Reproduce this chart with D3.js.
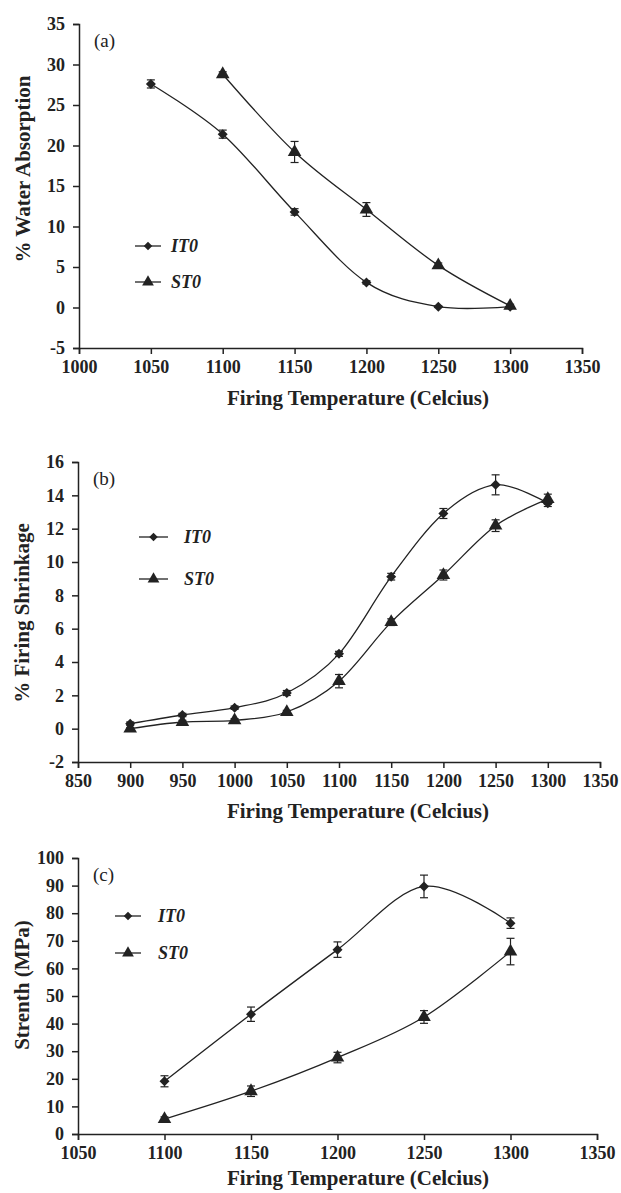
<!DOCTYPE html>
<html>
<head>
<meta charset="utf-8">
<script src="https://cdn.jsdelivr.net/npm/d3@7"></script>
<style>
  body { margin: 0; background: #fff; }
  svg { display: block; }
  .title { font-family: "Liberation Serif", serif; font-weight: bold; font-size: 21px; fill: #222; }
  .tag { font-family: "Liberation Serif", serif; font-size: 19px; fill: #222; }
  .leg { font-family: "Liberation Serif", serif; font-weight: bold; font-style: italic; font-size: 18px; fill: #222; }
</style>
</head>
<body>
<svg width="621" height="1193"></svg>
<script>
// (a) water absorption
var tempAbsIT0 = [1050, 1100, 1150, 1200, 1250, 1300];
var absIT0     = [27.6, 21.4, 11.8, 3.1, 0.1, 0.1];
var absIT0Err  = [0.5, 0.5, 0.4, 0.2, 0.1, 0.1];
var tempAbsST0 = [1100, 1150, 1200, 1250, 1300];
var absST0     = [28.8, 19.2, 12.1, 5.2, 0.2];
var absST0Err  = [0.3, 1.3, 0.85, 0.3, 0.2];

// (b) firing shrinkage
var tempShr   = [900, 950, 1000, 1050, 1100, 1150, 1200, 1250, 1300];
var shrIT0    = [0.3, 0.82, 1.26, 2.14, 4.49, 9.12, 12.91, 14.63, 13.53];
var shrIT0Err = [0.1, 0.1, 0.1, 0.15, 0.15, 0.2, 0.3, 0.6, 0.2];
var shrST0    = [0.0, 0.4, 0.5, 1.0, 2.85, 6.39, 9.22, 12.18, 13.77];
var shrST0Err = [0.05, 0.1, 0.1, 0.1, 0.4, 0.2, 0.3, 0.35, 0.3];

// (c) strength
var tempStr   = [1100, 1150, 1200, 1250, 1300];
var strIT0    = [19.1, 43.4, 66.8, 89.7, 76.4];
var strIT0Err = [2.0, 2.6, 2.8, 4.1, 1.9];
var strST0    = [5.4, 15.5, 27.7, 42.4, 66.1];
var strST0Err = [0.8, 1.9, 1.9, 2.3, 4.8];

var seriesNames = ["IT0", "ST0"];

var svg = d3.select("svg");
var ink = "#222";

function zip(xs, ys, es) {
  return xs.map(function(x, i){ return {x: x, y: ys[i], e: es[i]}; });
}

function styleAxis(a) {
  a.attr("font-family", "Liberation Serif").attr("font-size", 18).attr("font-weight", "bold");
  a.select(".domain").attr("stroke", ink).attr("stroke-width", 1.5);
  a.selectAll(".tick line").attr("stroke", ink).attr("stroke-width", 1.5);
  a.selectAll(".tick text").attr("fill", ink)
    .style("font-family", "'Liberation Serif', serif").style("font-weight", "bold").style("font-size", "18px");
}

// diamond = square turned 45deg, triangle as is
var symbols = [d3.symbolSquare, d3.symbolTriangle];
var rot = [45, 0];

function drawPanel(p) {
  var x = d3.scaleLinear().domain(p.xDomain).range([p.left, p.right]);
  var y = d3.scaleLinear().domain(p.yDomain).range([p.bottom, p.top]);

  var xAxis = svg.append("g")
      .attr("transform", "translate(0," + p.bottom + ")")
      .call(d3.axisBottom(x).tickValues(d3.range(p.xDomain[0], p.xDomain[1] + 1, 50))
        .tickFormat(d3.format("d")).tickSizeOuter(0).tickSize(6).tickPadding(6));
  var yAxis = svg.append("g")
      .attr("transform", "translate(" + p.left + ",0)")
      .call(d3.axisLeft(y).tickValues(d3.range(p.yDomain[0], p.yDomain[1] + 0.001, p.yStep))
        .tickFormat(function(d){ return d < 0 ? "-" + Math.abs(d) : d; })
        .tickSizeOuter(0).tickSize(6).tickPadding(8));
  styleAxis(xAxis);
  styleAxis(yAxis);

  var line = d3.line()
      .x(function(d){ return x(d.x); })
      .y(function(d){ return y(d.y); })
      .curve(d3.curveCardinal.tension(0));

  p.series.forEach(function(s, k) {
    var g = svg.append("g");
    g.append("path").datum(s)
      .attr("d", line).attr("fill", "none").attr("stroke", ink).attr("stroke-width", 1.3);
    var eb = g.selectAll(".eb").data(s).enter().append("g");
    eb.append("line")
      .attr("x1", function(d){ return x(d.x); }).attr("x2", function(d){ return x(d.x); })
      .attr("y1", function(d){ return y(d.y - d.e); }).attr("y2", function(d){ return y(d.y + d.e); })
      .attr("stroke", ink).attr("stroke-width", 1.2);
    [-1, 1].forEach(function(sg){
      eb.append("line")
        .attr("x1", function(d){ return x(d.x) - 4; }).attr("x2", function(d){ return x(d.x) + 4; })
        .attr("y1", function(d){ return y(d.y + sg * d.e); }).attr("y2", function(d){ return y(d.y + sg * d.e); })
        .attr("stroke", ink).attr("stroke-width", 1.2);
    });
    g.selectAll(".m").data(s).enter().append("path")
      .attr("d", d3.symbol().type(symbols[k]).size(k === 0 ? 50 : 80))
      .attr("transform", function(d){ return "translate(" + x(d.x) + "," + y(d.y) + ") rotate(" + rot[k] + ")"; })
      .attr("fill", ink);
  });

  // legend
  seriesNames.forEach(function(name, k) {
    var ly = p.legY[k];
    svg.append("line").attr("x1", p.legX0).attr("x2", p.legX1).attr("y1", ly).attr("y2", ly)
      .attr("stroke", ink).attr("stroke-width", 1.3);
    svg.append("path").attr("d", d3.symbol().type(symbols[k]).size(k === 0 ? 36 : 60))
      .attr("transform", "translate(" + ((p.legX0 + p.legX1) / 2) + "," + ly + ") rotate(" + rot[k] + ")")
      .attr("fill", ink);
    svg.append("text").attr("class", "leg").attr("x", p.legText).attr("y", ly + 6).text(name);
  });

  svg.append("text").attr("class", "tag").attr("x", p.left + 15).attr("y", p.top + 23).text(p.tag);

  svg.append("text").attr("class", "title").attr("text-anchor", "middle")
    .attr("transform", "translate(" + (p.yTitleX) + "," + p.yTitleY + ") rotate(-90)")
    .attr("dy", "0.35em").text(p.yTitle);
  svg.append("text").attr("class", "title").attr("text-anchor", "middle")
    .attr("x", 358).attr("y", p.xTitleY).attr("dy", "0.35em").text("Firing Temperature (Celcius)");
}

drawPanel({
  xDomain: [1000, 1350], yDomain: [-5, 35], yStep: 5,
  left: 79, right: 582, top: 24, bottom: 348,
  series: [zip(tempAbsIT0, absIT0, absIT0Err), zip(tempAbsST0, absST0, absST0Err)],
  legX0: 135, legX1: 161, legText: 171, legY: [246, 282],
  tag: "(a)", yTitle: "% Water Absorption", yTitleX: 23, yTitleY: 169, xTitleY: 398
});

drawPanel({
  xDomain: [850, 1350], yDomain: [-2, 16], yStep: 2,
  left: 78, right: 600, top: 462, bottom: 762,
  series: [zip(tempShr, shrIT0, shrIT0Err), zip(tempShr, shrST0, shrST0Err)],
  legX0: 139, legX1: 168, legText: 184, legY: [537, 579],
  tag: "(b)", yTitle: "% Firing Shrinkage", yTitleX: 22, yTitleY: 613, xTitleY: 811
});

drawPanel({
  xDomain: [1050, 1350], yDomain: [0, 100], yStep: 10,
  left: 78, right: 597, top: 858, bottom: 1134,
  series: [zip(tempStr, strIT0, strIT0Err), zip(tempStr, strST0, strST0Err)],
  legX0: 115, legX1: 141, legText: 158, legY: [916, 953],
  tag: "(c)", yTitle: "Strenth (MPa)", yTitleX: 22, yTitleY: 985, xTitleY: 1178
});
</script>
</body>
</html>
